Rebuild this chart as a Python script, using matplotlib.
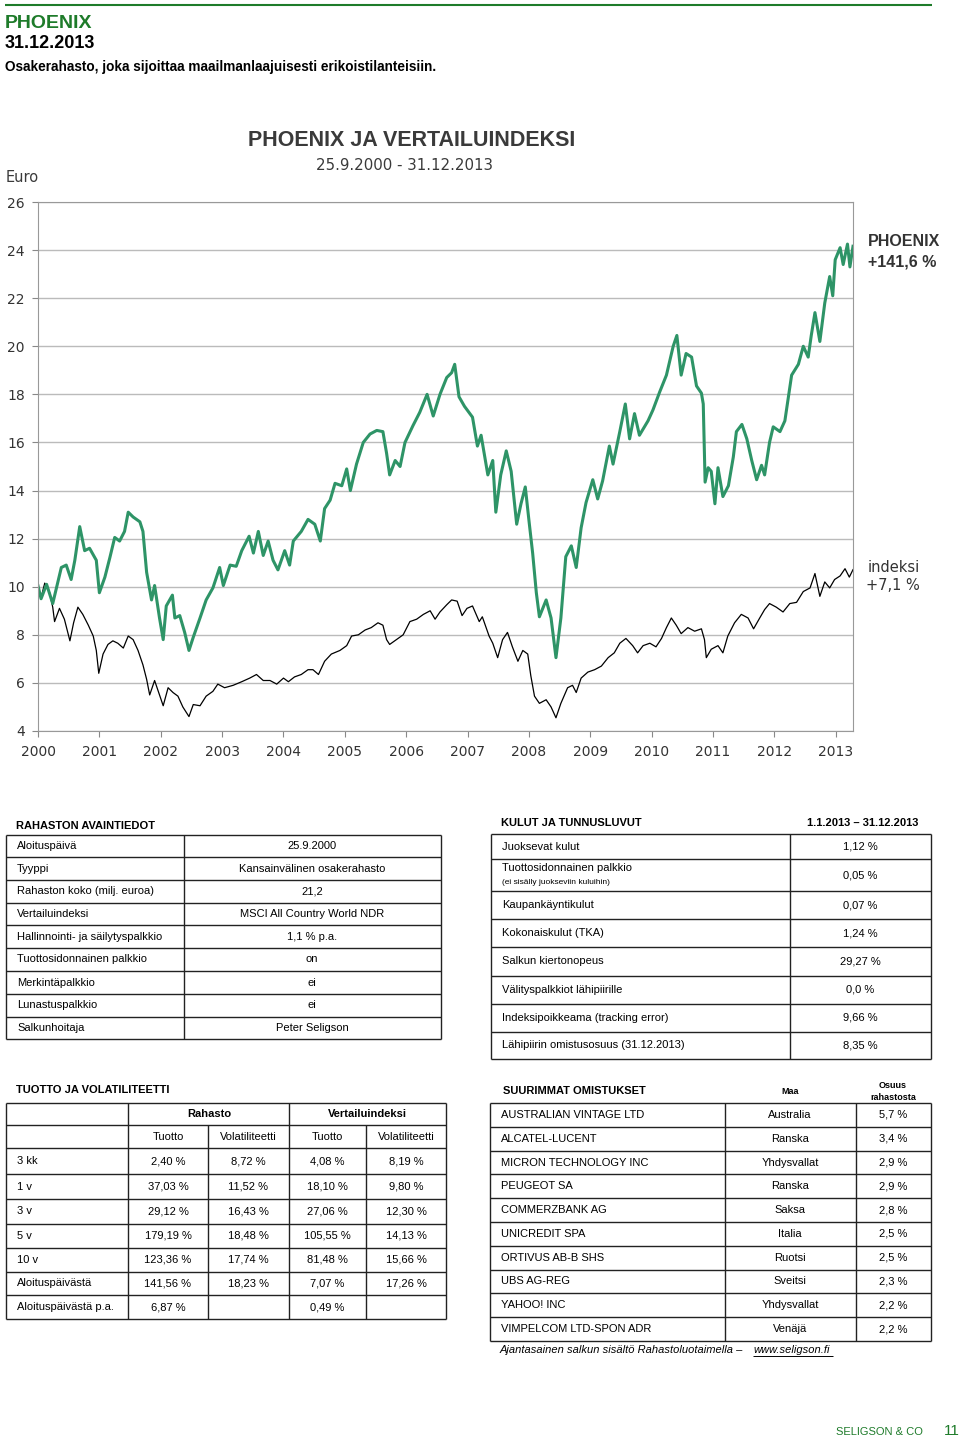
import matplotlib
matplotlib.use("Agg")
import matplotlib.pyplot as plt

# ---- chart data ----
years = list(range(2000, 2014))

phoenix_x = [2000.00, 2000.05, 2000.14, 2000.24, 2000.38, 2000.46, 2000.54, 2000.60, 2000.68, 2000.76,
             2000.84, 2000.95, 2001.00, 2001.09, 2001.17, 2001.25, 2001.33, 2001.41, 2001.47, 2001.55,
             2001.66, 2001.71, 2001.77, 2001.85, 2001.90, 2001.98, 2002.04, 2002.09, 2002.19, 2002.23,
             2002.31, 2002.39, 2002.46, 2002.53, 2002.64, 2002.74, 2002.85, 2002.96, 2003.02, 2003.13,
             2003.23, 2003.32, 2003.44, 2003.51, 2003.59, 2003.67, 2003.75, 2003.83, 2003.91, 2004.02,
             2004.10, 2004.16, 2004.29, 2004.40, 2004.51, 2004.60, 2004.67, 2004.76, 2004.84, 2004.95,
             2005.03, 2005.09, 2005.19, 2005.30, 2005.41, 2005.52, 2005.62, 2005.68, 2005.73, 2005.82,
             2005.90, 2005.98, 2006.11, 2006.22, 2006.34, 2006.44, 2006.55, 2006.66, 2006.74, 2006.79,
             2006.86, 2006.95, 2007.08, 2007.16, 2007.22, 2007.33, 2007.41, 2007.46, 2007.54, 2007.63,
             2007.71, 2007.80, 2007.87, 2007.94, 2008.00, 2008.06, 2008.12, 2008.17, 2008.28, 2008.36,
             2008.44, 2008.52, 2008.60, 2008.69, 2008.77, 2008.85, 2008.93, 2009.04, 2009.12, 2009.20,
             2009.31, 2009.37, 2009.48, 2009.57, 2009.64, 2009.72, 2009.80, 2009.94, 2010.02, 2010.13,
             2010.24, 2010.35, 2010.41, 2010.48, 2010.56, 2010.65, 2010.73, 2010.81, 2010.84, 2010.87,
             2010.92, 2010.97, 2011.03, 2011.08, 2011.16, 2011.25, 2011.33, 2011.38, 2011.47, 2011.55,
             2011.63, 2011.71, 2011.79, 2011.84, 2011.92, 2011.98, 2012.09, 2012.17, 2012.28, 2012.39,
             2012.47, 2012.55, 2012.60, 2012.66, 2012.74, 2012.82, 2012.90, 2012.95, 2012.99, 2013.07,
             2013.12, 2013.19, 2013.23, 2013.28]
phoenix_y = [10.04, 9.50, 10.10, 9.30, 10.80, 10.90, 10.30, 11.10, 12.50, 11.50,
             11.60, 11.10, 9.75, 10.40, 11.20, 12.05, 11.90, 12.30, 13.10, 12.90,
             12.70, 12.30, 10.60, 9.45, 10.05, 8.70, 7.80, 9.20, 9.65, 8.70,
             8.80, 8.10, 7.35, 7.90, 8.70, 9.45, 9.95, 10.80, 10.05, 10.90,
             10.85, 11.50, 12.10, 11.40, 12.30, 11.30, 11.90, 11.10, 10.70, 11.50,
             10.90, 11.90, 12.30, 12.80, 12.60, 11.90, 13.25, 13.60, 14.30, 14.20,
             14.90, 14.00, 15.10, 16.00, 16.35, 16.50, 16.45, 15.55, 14.65, 15.25,
             15.00, 16.00, 16.70, 17.25, 18.00, 17.10, 18.00, 18.70, 18.90, 19.25,
             17.90, 17.50, 17.05, 15.85, 16.30, 14.65, 15.25, 13.10, 14.65, 15.65,
             14.80, 12.60, 13.45, 14.15, 12.75, 11.40, 9.75, 8.75, 9.45, 8.70,
             7.05, 8.70, 11.25, 11.70, 10.80, 12.45, 13.50, 14.45, 13.65, 14.40,
             15.85, 15.10, 16.45, 17.60, 16.15, 17.20, 16.30, 16.90, 17.35, 18.10,
             18.80, 20.00, 20.45, 18.80, 19.70, 19.55, 18.35, 18.05, 17.60, 14.35,
             14.95, 14.80, 13.45, 14.95, 13.75, 14.20, 15.40, 16.45, 16.75, 16.15,
             15.25, 14.45, 15.05, 14.65, 16.00, 16.65, 16.45, 16.90, 18.80, 19.25,
             20.00, 19.55, 20.45, 21.40, 20.20, 21.80, 22.90, 22.10, 23.60, 24.10,
             23.40, 24.25, 23.30, 24.16]

index_x = [2000.00, 2000.05, 2000.11, 2000.19, 2000.24, 2000.27, 2000.35, 2000.43, 2000.52, 2000.58,
           2000.65, 2000.73, 2000.82, 2000.90, 2000.95, 2000.99, 2001.06, 2001.14, 2001.22, 2001.30,
           2001.39, 2001.47, 2001.55, 2001.63, 2001.71, 2001.77, 2001.82, 2001.90, 2001.98, 2002.04,
           2002.12, 2002.20, 2002.28, 2002.36, 2002.46, 2002.53, 2002.64, 2002.74, 2002.85, 2002.93,
           2003.04, 2003.18, 2003.32, 2003.45, 2003.56, 2003.67, 2003.78, 2003.89, 2004.00, 2004.08,
           2004.18, 2004.29, 2004.40, 2004.48, 2004.57, 2004.67, 2004.78, 2004.92, 2005.03, 2005.11,
           2005.22, 2005.33, 2005.43, 2005.54, 2005.62, 2005.68, 2005.73, 2005.84, 2005.95, 2006.06,
           2006.17, 2006.28, 2006.39, 2006.47, 2006.55, 2006.66, 2006.74, 2006.83, 2006.91, 2006.99,
           2007.08, 2007.19, 2007.24, 2007.35, 2007.41, 2007.49, 2007.57, 2007.65, 2007.73, 2007.82,
           2007.90, 2007.98, 2008.03, 2008.09, 2008.17, 2008.28, 2008.36, 2008.44, 2008.52, 2008.63,
           2008.71, 2008.77, 2008.85, 2008.96, 2009.07, 2009.18, 2009.29, 2009.39, 2009.48, 2009.58,
           2009.69, 2009.77, 2009.86, 2009.97, 2010.07, 2010.16, 2010.24, 2010.32, 2010.40, 2010.48,
           2010.59, 2010.70, 2010.81, 2010.86, 2010.89, 2010.97, 2011.08, 2011.16, 2011.24, 2011.35,
           2011.46, 2011.57, 2011.66, 2011.76, 2011.84, 2011.92, 2012.03, 2012.14, 2012.25, 2012.36,
           2012.47, 2012.58, 2012.66, 2012.74, 2012.82, 2012.90, 2012.98, 2013.07, 2013.15, 2013.22,
           2013.28]
index_y = [10.00, 9.55, 10.15, 9.75, 9.15, 8.55, 9.10, 8.65, 7.75, 8.50,
           9.15, 8.85, 8.40, 7.95, 7.35, 6.40, 7.20, 7.60, 7.75, 7.65,
           7.45, 7.95, 7.80, 7.35, 6.75, 6.15, 5.50, 6.10, 5.50, 5.05,
           5.80, 5.60, 5.45, 5.00, 4.60, 5.10, 5.05, 5.45, 5.65, 5.95,
           5.80, 5.90, 6.05, 6.20, 6.35, 6.10, 6.10, 5.95, 6.20, 6.05,
           6.25, 6.35, 6.55, 6.55, 6.35, 6.90, 7.20, 7.35, 7.55, 7.95,
           8.00, 8.20, 8.30, 8.50, 8.40, 7.80, 7.60, 7.80, 8.00, 8.55,
           8.65, 8.85, 9.00, 8.65, 8.95, 9.25, 9.45, 9.40, 8.80, 9.10,
           9.20, 8.55, 8.75, 7.95, 7.65, 7.05, 7.80, 8.10, 7.50, 6.90,
           7.35, 7.20, 6.30, 5.45, 5.15, 5.30, 5.00, 4.55, 5.15, 5.80,
           5.90, 5.60, 6.20, 6.45, 6.55, 6.70, 7.05, 7.25, 7.65, 7.85,
           7.55, 7.25, 7.55, 7.65, 7.50, 7.85, 8.30, 8.70, 8.40, 8.05,
           8.30, 8.15, 8.25, 7.80, 7.05, 7.40, 7.55, 7.25, 7.95, 8.50,
           8.85, 8.70, 8.25, 8.70, 9.05, 9.30, 9.15, 8.95, 9.30, 9.35,
           9.80, 9.95, 10.55, 9.60, 10.20, 9.95, 10.30, 10.45, 10.75, 10.40,
           10.71]

# ---- table data ----
avain_labels = ["Aloituspäivä", "Tyyppi", "Rahaston koko (milj. euroa)", "Vertailuindeksi",
                "Hallinnointi- ja säilytyspalkkio", "Tuottosidonnainen palkkio", "Merkintäpalkkio",
                "Lunastuspalkkio", "Salkunhoitaja"]
avain_values = ["25.9.2000", "Kansainvälinen osakerahasto", "21,2", "MSCI All Country World NDR",
                "1,1 % p.a.", "on", "ei", "ei", "Peter Seligson"]

kulut_labels = ["Juoksevat kulut", "Tuottosidonnainen palkkio", "Kaupankäyntikulut",
                "Kokonaiskulut (TKA)", "Salkun kiertonopeus", "Välityspalkkiot lähipiirille",
                "Indeksipoikkeama (tracking error)", "Lähipiirin omistusosuus (31.12.2013)"]
kulut_values = ["1,12 %", "0,05 %", "0,07 %", "1,24 %", "29,27 %", "0,0 %", "9,66 %", "8,35 %"]

periods = ["3 kk", "1 v", "3 v", "5 v", "10 v", "Aloituspäivästä", "Aloituspäivästä p.a."]
rahasto_tuotto = ["2,40 %", "37,03 %", "29,12 %", "179,19 %", "123,36 %", "141,56 %", "6,87 %"]
rahasto_vol = ["8,72 %", "11,52 %", "16,43 %", "18,48 %", "17,74 %", "18,23 %", ""]
indeksi_tuotto = ["4,08 %", "18,10 %", "27,06 %", "105,55 %", "81,48 %", "7,07 %", "0,49 %"]
indeksi_vol = ["8,19 %", "9,80 %", "12,30 %", "14,13 %", "15,66 %", "17,26 %", ""]

holdings = ["AUSTRALIAN VINTAGE LTD", "ALCATEL-LUCENT", "MICRON TECHNOLOGY INC", "PEUGEOT SA",
            "COMMERZBANK AG", "UNICREDIT SPA", "ORTIVUS AB-B SHS", "UBS AG-REG", "YAHOO! INC",
            "VIMPELCOM LTD-SPON ADR"]
countries = ["Australia", "Ranska", "Yhdysvallat", "Ranska", "Saksa", "Italia", "Ruotsi",
             "Sveitsi", "Yhdysvallat", "Venäjä"]
shares = ["5,7 %", "3,4 %", "2,9 %", "2,9 %", "2,8 %", "2,5 %", "2,5 %", "2,3 %", "2,2 %", "2,2 %"]

GREEN = "#1e7b2a"
LINE_GREEN = "#2e9467"
ARIAL = "Liberation Sans"

fig = plt.figure(figsize=(9.6, 14.4), dpi=100)

# background axes in pixel coordinates for header and tables
bg = fig.add_axes([0, 0, 1, 1])
bg.set_xlim(0, 960)
bg.set_ylim(1440, 0)
bg.axis("off")


def txt(x, y, s, size=8, weight="normal", ha="left", color="black", family=ARIAL, style="normal"):
    bg.text(x, y, s, fontsize=size, fontweight=weight, ha=ha, va="center", color=color,
            family=family, style=style)


def hline(x0, x1, y, lw=1.0, color="#222222"):
    bg.plot([x0, x1], [y, y], color=color, lw=lw, solid_capstyle="butt")


def vline(x, y0, y1, lw=1.0, color="#222222"):
    bg.plot([x, x], [y0, y1], color=color, lw=lw, solid_capstyle="butt")


# header
hline(5, 932, 5, lw=1.5, color=GREEN)
txt(5, 23, "PHOENIX", size=14, weight="bold", color=GREEN)
txt(5, 44, "31.12.2013", size=13, weight="bold")
txt(5, 67, "Osakerahasto, joka sijoittaa maailmanlaajuisesti erikoistilanteisiin.", size=9.8,
    weight="bold")

# chart titles
txt(412, 140, "PHOENIX JA VERTAILUINDEKSI", size=15.5, weight="bold", ha="center", color="#3a3a3a")
txt(405, 166, "25.9.2000 - 31.12.2013", size=10.8, ha="center", color="#3a3a3a", family="DejaVu Sans")
txt(6, 177, "Euro", size=10.5, color="#3a3a3a", family="DejaVu Sans")

# line chart
ax = fig.add_axes([38 / 960, 1 - 731 / 1440, (853 - 38) / 960, (731 - 202) / 1440])
ax.plot(index_x, index_y, color="black", lw=0.9)
ax.plot(phoenix_x, phoenix_y, color=LINE_GREEN, lw=2.2)
ax.set_xlim(2000, 2013.28)
ax.set_ylim(4, 26)
ax.set_yticks(range(4, 27, 2))
ax.set_xticks(years)
ax.set_xticklabels([str(y) for y in years])
ax.grid(axis="y", color="#bbbbbb", lw=1.0)
ax.set_axisbelow(True)
for s in ax.spines.values():
    s.set_color("#999999")
ax.tick_params(axis="both", colors="#888888", labelcolor="#333333", labelsize=10, length=4)
ax.tick_params(axis="y", pad=5.5)
ax.tick_params(axis="x", pad=6)

txt(868, 242, "PHOENIX", size=11.5, weight="bold", color="#333333")
txt(868, 262, "+141,6 %", size=11.5, weight="bold", color="#333333")
txt(868, 567, "indeksi", size=10.5, color="#333333", family="DejaVu Sans")
txt(866, 585, "+7,1 %", size=10.5, color="#333333", family="DejaVu Sans")

# table 1: RAHASTON AVAINTIEDOT
txt(16, 826, "RAHASTON AVAINTIEDOT", weight="bold")
t1_rows = [835, 857, 880, 903, 925, 948, 971, 994, 1017, 1039]
for y in t1_rows:
    hline(6, 441, y)
vline(6, 835, 1039)
vline(184, 835, 1039)
vline(441, 835, 1039)
for i, (lab, val) in enumerate(zip(avain_labels, avain_values)):
    yc = (t1_rows[i] + t1_rows[i + 1]) / 2
    txt(17, yc, lab)
    txt(312, yc, val, ha="center")

# table 2: KULUT JA TUNNUSLUVUT
txt(501, 823, "KULUT JA TUNNUSLUVUT", weight="bold")
txt(918, 823, "1.1.2013 – 31.12.2013", weight="bold", ha="right")
t2_rows = [834, 859, 891, 919, 947, 976, 1004, 1032, 1059]
for y in t2_rows:
    hline(491, 931, y)
vline(491, 834, 1059)
vline(790, 834, 1059)
vline(931, 834, 1059)
for i, (lab, val) in enumerate(zip(kulut_labels, kulut_values)):
    yc = (t2_rows[i] + t2_rows[i + 1]) / 2
    if i == 1:
        txt(502, yc - 7, lab)
        txt(502, yc + 8, "(ei sisälly juokseviin kuluihin)", size=6)
    else:
        txt(502, yc, lab)
    txt(860, yc, val, ha="center")

# table 3: TUOTTO JA VOLATILITEETTI
txt(16, 1090, "TUOTTO JA VOLATILITEETTI", weight="bold")
t3_rows = [1103, 1125, 1148, 1174, 1199, 1224, 1248, 1272, 1295, 1319]
t3_cols = [6, 128, 208, 289, 366, 446]
for y in t3_rows:
    hline(6, 446, y)
for x in t3_cols:
    top = 1125 if x in (208, 366) else 1103
    vline(x, top, 1319)
txt(209, 1114, "Rahasto", weight="bold", ha="center")
txt(367, 1114, "Vertailuindeksi", weight="bold", ha="center")
sub_heads = ["Tuotto", "Volatiliteetti", "Tuotto", "Volatiliteetti"]
centers = [168, 248, 327, 406]
for c, h in zip(centers, sub_heads):
    txt(c, 1137, h, ha="center")
for i, p in enumerate(periods):
    yc = (t3_rows[i + 2] + t3_rows[i + 3]) / 2
    txt(17, yc, p)
    for c, v in zip(centers, [rahasto_tuotto[i], rahasto_vol[i], indeksi_tuotto[i], indeksi_vol[i]]):
        txt(c, yc, v, ha="center")

# table 4: SUURIMMAT OMISTUKSET
txt(503, 1091, "SUURIMMAT OMISTUKSET", weight="bold")
txt(790, 1091, "Maa", size=6.5, weight="bold", ha="center")
txt(893, 1085, "Osuus", size=6.5, weight="bold", ha="center")
txt(893, 1097, "rahastosta", size=6.5, weight="bold", ha="center")
t4_top, t4_bot = 1103, 1341
n = len(holdings)
rh = (t4_bot - t4_top) / n
for i in range(n + 1):
    hline(490, 931, t4_top + i * rh)
for x in (490, 725, 856, 931):
    vline(x, t4_top, t4_bot)
for i, (h, c, s) in enumerate(zip(holdings, countries, shares)):
    yc = t4_top + (i + 0.5) * rh
    txt(501, yc, h)
    txt(790, yc, c, ha="center")
    txt(893, yc, s, ha="center")

txt(500, 1350, "Ajantasainen salkun sisältö Rahastoluotaimella –", style="italic")
txt(753, 1350, "www.seligson.fi", style="italic")
hline(753, 833, 1356, lw=0.7, color="black")

# footer
txt(836, 1432, "SELIGSON & CO", size=8, color=GREEN)
txt(944, 1431, "11", size=11, color=GREEN)

fig.savefig("out.png", dpi=100)
